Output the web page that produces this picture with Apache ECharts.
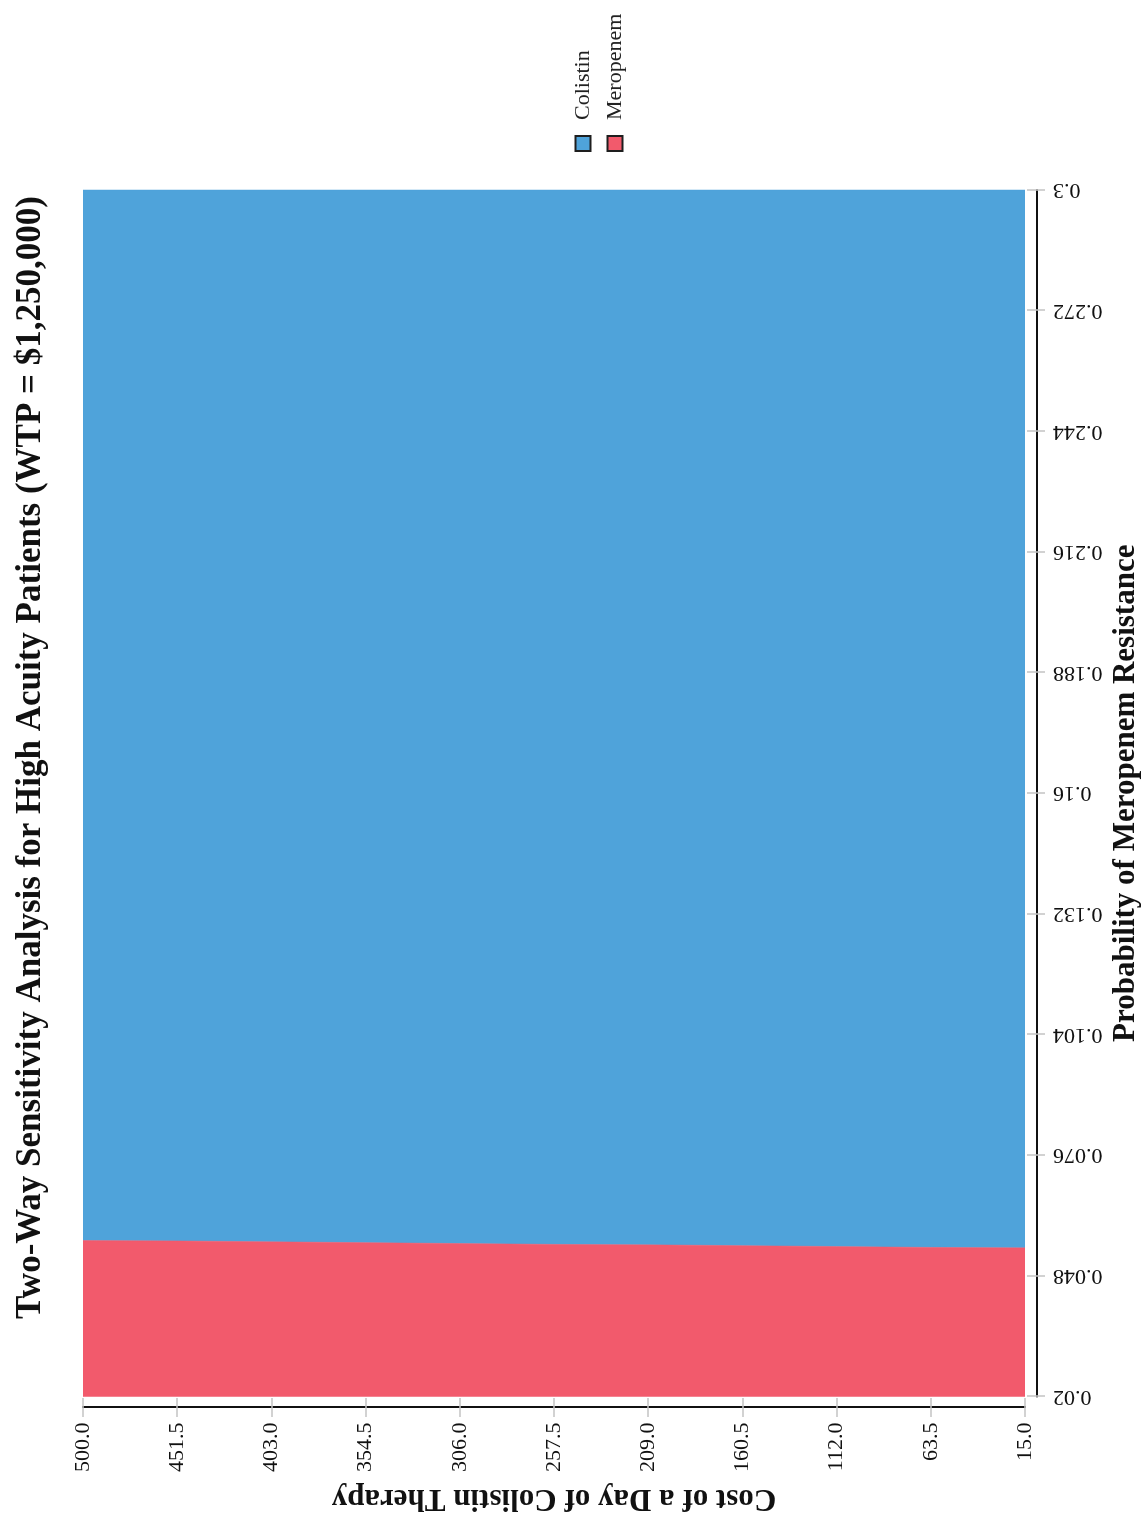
<!DOCTYPE html>
<html>
<head>
<meta charset="utf-8">
<title>Two-Way Sensitivity Analysis</title>
<script src="https://cdn.jsdelivr.net/npm/echarts@6/dist/echarts.min.js"></script>
<style>
  html, body { margin: 0; padding: 0; overflow: hidden; background: #ffffff; width: 1143px; height: 1515px; }
  /* chart is laid out landscape and turned a quarter turn counter-clockwise */
  #chart {
    position: absolute; left: 0; top: 0;
    width: 1515px; height: 1143px;
    transform-origin: 0 0;
    transform: translateY(1515px) rotate(-90deg);
  }
</style>
</head>
<body>
<div id="chart"></div>
<script>
// Tick values for both axes
const probTicks = [0.02, 0.048, 0.076, 0.104, 0.132, 0.16, 0.188, 0.216, 0.244, 0.272, 0.3];
const costTicks = [15, 63.5, 112, 160.5, 209, 257.5, 306, 354.5, 403, 451.5, 500];

// Threshold resistance probability below which meropenem is preferred, per daily colistin cost
const costGrid  = [500, 451.5, 403, 354.5, 306, 257.5, 209, 160.5, 112, 63.5, 15];
const threshold = [0.0562, 0.0561, 0.0559, 0.0557, 0.0555, 0.0553, 0.0552, 0.0550, 0.0548, 0.0546, 0.0545];

const strategies = ['Colistin', 'Meropenem'];
const colors = { Colistin: '#4FA3DA', Meropenem: '#F25A6C' };

const SERIF = "'Liberation Serif', 'Times New Roman', serif";
const probMin = probTicks[0], probMax = probTicks[probTicks.length - 1];
const costMin = costTicks[0], costMax = costTicks[costTicks.length - 1];

// Polygon covering one side of the threshold curve
function regionRender(side) {
  return function (params, api) {
    if (params.dataIndex !== 0) return null;
    const edge = side === 'below' ? probMin : probMax;
    const pts = [api.coord([edge, costGrid[0]])];
    costGrid.forEach(function (c, i) { pts.push(api.coord([threshold[i], c])); });
    pts.push(api.coord([edge, costGrid[costGrid.length - 1]]));
    return {
      type: 'polygon',
      shape: { points: pts },
      style: { fill: api.visual('color'), stroke: api.visual('color'), lineWidth: 0.5 }
    };
  };
}

const pairs = costGrid.map(function (c, i) { return [threshold[i], c]; });

const chart = echarts.init(document.getElementById('chart'), null, { renderer: 'canvas', width: 1515, height: 1143 });

const tickLine = { color: '#c4c4c4', width: 1.5 };

chart.setOption({
  animation: false,
  backgroundColor: '#ffffff',
  title: {
    text: 'Two-Way Sensitivity Analysis for High Acuity Patients (WTP = $1,250,000)',
    left: 'center',
    top: 8,
    textStyle: { fontFamily: SERIF, fontWeight: 'bold', fontSize: 35, color: '#111' }
  },
  legend: {
    orient: 'vertical',
    left: 1363,
    top: 572,
    padding: 0,
    itemWidth: 15,
    itemHeight: 15,
    itemGap: 10,
    icon: 'rect',
    data: strategies.map(function (n) {
      return { name: n, itemStyle: { borderColor: '#1e1e1e', borderWidth: 2 } };
    }),
    textStyle: { fontFamily: SERIF, fontSize: 22, color: '#222', lineHeight: 22, padding: [0, 0, 0, 11] }
  },
  grid: { left: 118.5, right: 190, top: 83, bottom: 118, outerBoundsMode: 'none', containLabel: false },
  xAxis: [{
    type: 'value',
    min: probMin, max: probMax,
    position: 'bottom',
    offset: 12,
    name: 'Probability of Meropenem Resistance',
    nameLocation: 'middle',
    nameGap: 66,
    nameTextStyle: { fontFamily: SERIF, fontWeight: 'bold', fontSize: 31, color: '#111' },
    axisLine: { show: true, lineStyle: { color: '#111', width: 2 } },
    axisTick: { show: true, length: 8, lineStyle: tickLine, customValues: probTicks },
    axisLabel: {
      rotate: 90, margin: 16, customValues: probTicks,
      fontFamily: SERIF, fontSize: 22, color: '#111',
      formatter: function (v) { return String(v); }
    },
    splitLine: { show: false }
  }, {
    type: 'value',
    min: probMin, max: probMax,
    position: 'bottom',
    offset: 12,
    axisLine: { show: false },
    axisTick: { show: true, inside: true, length: 10, lineStyle: tickLine, customValues: probTicks },
    axisLabel: { show: false },
    splitLine: { show: false }
  }],
  yAxis: [{
    type: 'value',
    min: costMin, max: costMax,
    position: 'left',
    offset: 11,
    name: 'Cost of a Day of Colistin Therapy',
    nameLocation: 'middle',
    nameGap: 67,
    nameTextStyle: { fontFamily: SERIF, fontWeight: 'bold', fontSize: 31, color: '#111' },
    axisLine: { show: true, lineStyle: { color: '#111', width: 2 } },
    axisTick: { show: true, length: 9.5, lineStyle: tickLine, customValues: costTicks },
    axisLabel: {
      margin: 15, customValues: costTicks,
      fontFamily: SERIF, fontSize: 22, color: '#111',
      formatter: function (v) { return Number(v).toFixed(1); }
    },
    splitLine: { show: false }
  }, {
    type: 'value',
    min: costMin, max: costMax,
    position: 'left',
    offset: 11,
    axisLine: { show: false },
    axisTick: { show: true, inside: true, length: 9.5, lineStyle: tickLine, customValues: costTicks },
    axisLabel: { show: false },
    splitLine: { show: false }
  }],
  series: [{
    name: 'Colistin',
    type: 'custom',
    xAxisIndex: 0, yAxisIndex: 0,
    color: colors.Colistin,
    itemStyle: { color: colors.Colistin },
    renderItem: regionRender('above'),
    data: pairs,
    clip: true
  }, {
    name: 'Meropenem',
    type: 'custom',
    xAxisIndex: 0, yAxisIndex: 0,
    color: colors.Meropenem,
    itemStyle: { color: colors.Meropenem },
    renderItem: regionRender('below'),
    data: pairs,
    clip: true
  }]
});
</script>
</body>
</html>
